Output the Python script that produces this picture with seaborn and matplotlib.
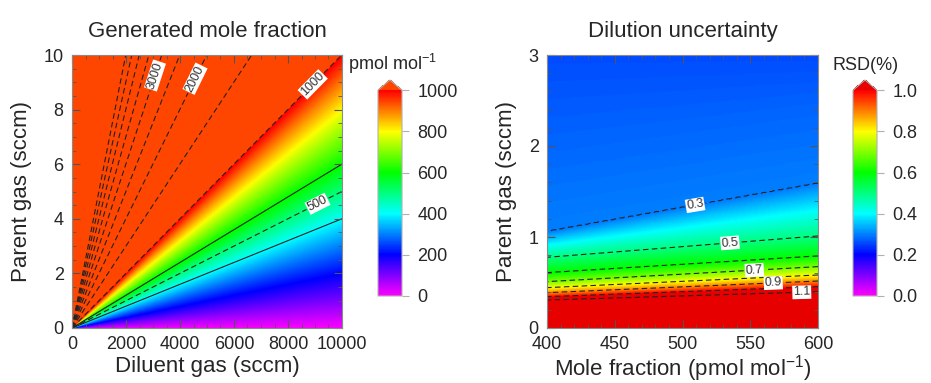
import numpy as np
import matplotlib
matplotlib.use('Agg')
import matplotlib.pyplot as plt
from matplotlib.colors import ListedColormap, hsv_to_rgb
from matplotlib.ticker import MultipleLocator
import seaborn as sns

# left panel: mole fraction generated by mixing parent gas into diluent
diluent_flow = np.linspace(0, 10000, 501)      # sccm
parent_flow_left = np.linspace(0, 10, 501)     # sccm
parent_cylinder = 1.0e6                        # pmol/mol in the parent gas
left_dashed_levels = [500, 1000, 1500, 2000, 2500, 3000, 3500, 4000, 4500, 5000]
left_solid_levels = [400, 600]
left_label_levels = [500, 1000, 2000, 3000]
left_label_pos = [(9120, 4.5), (8940, 8.9), (4620, 9.1), (3070, 9.25)]

# right panel: RSD read along the two edges (x = 400 and x = 600)
rsd_values = [0.26, 0.28, 0.3, 0.5, 0.6, 0.7, 0.8, 0.9, 1.0, 1.1, 1.6]
parent_at_400 = [3.0, 2.0, 1.06, 0.777, 0.608, 0.509, 0.443, 0.388, 0.344, 0.308, 0.0]
parent_at_600 = [3.0, 2.4, 1.59, 1.011, 0.791, 0.674, 0.582, 0.516, 0.454, 0.399, 0.0]
mole_fraction = np.linspace(400, 600, 201)
parent_flow_right = np.linspace(0, 3, 301)
rsd_line_levels = [0.3, 0.5, 0.6, 0.7, 0.8, 0.9, 1.0, 1.1]
rsd_label_levels = [0.3, 0.5, 0.7, 0.9, 1.1]
rsd_label_pos = [(509, 1.36), (535, 0.94), (553, 0.645), (567, 0.49), (588, 0.405)]

# fields
D, P = np.meshgrid(diluent_flow, parent_flow_left)
with np.errstate(invalid='ignore', divide='ignore'):
    mix = parent_cylinder * P / (P + D)
mix[0, 0] = parent_cylinder

p400 = np.array(parent_at_400)
p600 = np.array(parent_at_600)
rsd = np.empty((len(parent_flow_right), len(mole_fraction)))
for j, xf in enumerate(mole_fraction):
    frac = (xf - 400) / 200
    p_edge = p400 + frac * (p600 - p400)
    rsd[:, j] = np.interp(parent_flow_right, p_edge[::-1], rsd_values[::-1])

# colour scale: magenta -> blue -> cyan -> green -> yellow -> red
hues = np.linspace(300 / 360, 0, 256)
rgb = hsv_to_rgb(np.column_stack([hues, np.ones(256), np.ones(256)]))
cmap_left = ListedColormap(rgb).with_extremes(over='#FF4600')
cmap_right = ListedColormap(rgb).with_extremes(over='#E60000')

sns.set_style('ticks')
plt.rcParams['font.family'] = ['Liberation Sans', 'DejaVu Sans']
plt.rcParams['mathtext.default'] = 'regular'
plt.rcParams['lines.dashed_pattern'] = [5, 3]

W, H = 931, 383
fig = plt.figure(figsize=(W / 100, H / 100), dpi=100)
ax1 = fig.add_axes([72 / W, 55 / H, 270 / W, 273 / H])
cax1 = fig.add_axes([378 / W, 87 / H, 24 / W, 216 / H])
ax2 = fig.add_axes([547 / W, 55 / H, 271 / W, 273 / H])
cax2 = fig.add_axes([853 / W, 87 / H, 24 / W, 216 / H])

spine_col = '#8a8a8a'
line_col = '#222222'


def dashed_with_labels(ax, X, Y, Z, levels, label_levels, positions, fmt):
    plain = [v for v in levels if v not in label_levels]
    if plain:
        ax.contour(X, Y, Z, levels=plain, colors=line_col,
                   linewidths=0.8, linestyles='dashed')
    cs = ax.contour(X, Y, Z, levels=label_levels, colors=line_col,
                    linewidths=0.8, linestyles='dashed')
    labels = ax.clabel(cs, manual=positions, fmt=fmt, fontsize=9,
                       inline=True, inline_spacing=2)
    for t in labels:
        t.set_bbox(dict(facecolor='white', edgecolor='none', pad=0.5))
        t.set_color('#333333')


# left
m1 = ax1.pcolormesh(D, P, mix, cmap=cmap_left, vmin=0, vmax=1000,
                    shading='gouraud', rasterized=True)
dashed_with_labels(ax1, D, P, mix, left_dashed_levels, left_label_levels,
                   left_label_pos, '%d')
ax1.contour(D, P, mix, levels=left_solid_levels, colors=line_col,
            linewidths=0.8, linestyles='solid')
ax1.set_xlim(0, 10000)
ax1.set_ylim(0, 10)
ax1.xaxis.set_major_locator(MultipleLocator(2000))
ax1.xaxis.set_minor_locator(MultipleLocator(500))
ax1.yaxis.set_major_locator(MultipleLocator(2))
ax1.yaxis.set_minor_locator(MultipleLocator(0.5))
ax1.set_xlabel('Diluent gas (sccm)', fontsize=16, labelpad=2)
ax1.set_ylabel('Parent gas (sccm)', fontsize=16, labelpad=8)
ax1.set_title('Generated mole fraction', fontsize=16, pad=13)

cb1 = fig.colorbar(m1, cax=cax1, extend='max', extendfrac=0.05)
cb1.set_ticks([0, 200, 400, 600, 800, 1000])
fig.text(348 / W, 1 - 64 / H, 'pmol mol$^{-1}$', fontsize=13, va='center')

# right
m2 = ax2.pcolormesh(mole_fraction, parent_flow_right, rsd, cmap=cmap_right,
                    vmin=0, vmax=1.0, shading='gouraud', rasterized=True)
dashed_with_labels(ax2, mole_fraction, parent_flow_right, rsd, rsd_line_levels,
                   rsd_label_levels, rsd_label_pos, '%.1f')
ax2.set_xlim(400, 600)
ax2.set_ylim(0, 3)
ax2.xaxis.set_major_locator(MultipleLocator(50))
ax2.xaxis.set_minor_locator(MultipleLocator(10))
ax2.yaxis.set_major_locator(MultipleLocator(1))
ax2.yaxis.set_minor_locator(MultipleLocator(0.2))
ax2.set_xlabel('Mole fraction (pmol mol$^{-1}$)', fontsize=16, labelpad=0)
ax2.set_ylabel('Parent gas (sccm)', fontsize=16, labelpad=8)
ax2.set_title('Dilution uncertainty', fontsize=16, pad=13)

cb2 = fig.colorbar(m2, cax=cax2, extend='max', extendfrac=0.05)
cb2.set_ticks([0, 0.2, 0.4, 0.6, 0.8, 1.0])
cb2.ax.set_yticklabels(['%.1f' % v for v in [0, 0.2, 0.4, 0.6, 0.8, 1.0]])
fig.text(866 / W, 1 - 66 / H, 'RSD(%)', fontsize=13, va='center', ha='center')

for ax in (ax1, ax2):
    ax.set_axisbelow(False)
    ax.tick_params(which='both', direction='in', top=True, right=True,
                   color='#555555', labelsize=13, pad=6)
    ax.tick_params(which='major', length=6, width=0.8)
    ax.tick_params(which='minor', length=3, width=0.6)
    for s in ax.spines.values():
        s.set_color(spine_col)
        s.set_linewidth(0.8)
        s.set_zorder(5)

for cb in (cb1, cb2):
    cb.outline.set_edgecolor('#b0b0b0')
    cb.outline.set_linewidth(0.8)
    cb.ax.tick_params(direction='out', length=5, width=0.8, color='#b0b0b0',
                      labelsize=13, pad=6)
    cb.ax.minorticks_off()

fig.savefig('out.png', dpi=100)
